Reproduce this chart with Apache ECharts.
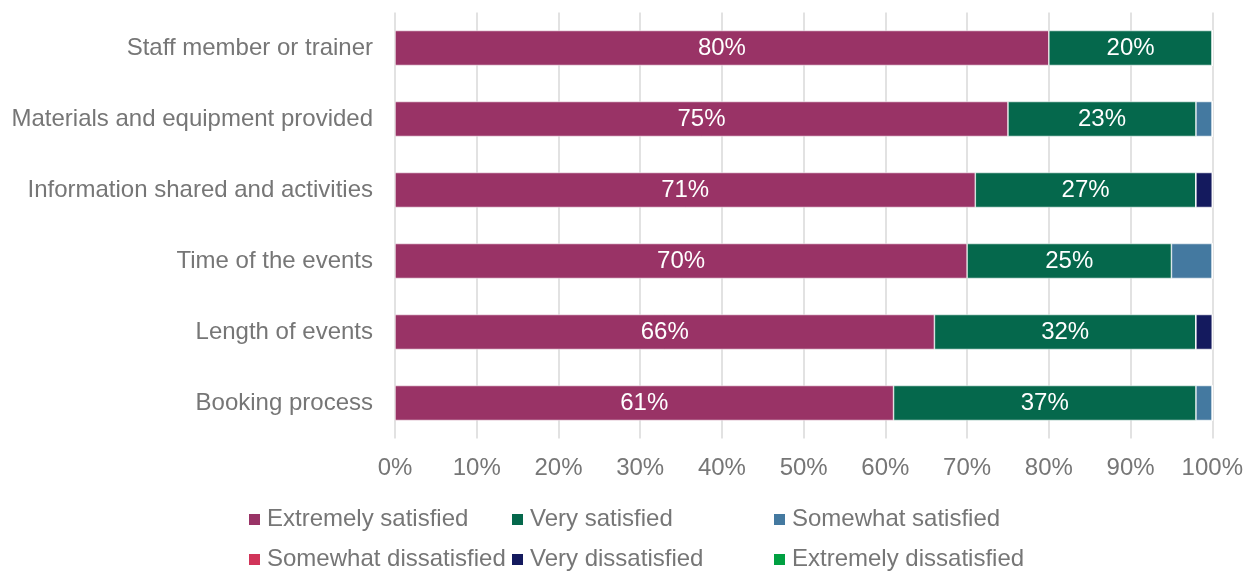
<!DOCTYPE html>
<html>
<head>
<meta charset="utf-8">
<script src="https://cdn.jsdelivr.net/npm/echarts@6/dist/echarts.min.js"></script>
<style>
  html, body { margin: 0; padding: 0; background: #ffffff; }
  #chart { width: 1246px; height: 572px; }
</style>
</head>
<body>
<div id="chart"></div>
<script>
// Satisfaction with event aspects (share of respondents, %)
const categories = [
  'Booking process',
  'Length of events',
  'Time of the events',
  'Information shared and activities',
  'Materials and equipment provided',
  'Staff member or trainer'
];
const seriesNames = [
  'Extremely satisfied',
  'Very satisfied',
  'Somewhat satisfied',
  'Somewhat dissatisfied',
  'Very dissatisfied',
  'Extremely dissatisfied'
];
const extremelySatisfied   = [61, 66, 70, 71, 75, 80];
const verySatisfied        = [37, 32, 25, 27, 23, 20];
const somewhatSatisfied    = [2, 0, 5, 0, 2, 0];
const somewhatDissatisfied = [0, 0, 0, 0, 0, 0];
const veryDissatisfied     = [0, 2, 0, 2, 0, 0];
const extremelyDissatisfied = [0, 0, 0, 0, 0, 0];
const xTicks = [0, 10, 20, 30, 40, 50, 60, 70, 80, 90, 100];

const colors = ['#993366', '#05684c', '#4479a0', '#d13459', '#141a5e', '#00a041'];
const values = [extremelySatisfied, verySatisfied, somewhatSatisfied,
                somewhatDissatisfied, veryDissatisfied, extremelyDissatisfied];
const labelled = [true, true, false, false, false, false];

const FONT = '"Liberation Sans", Arial, sans-serif';
const GRAY = '#767676';
const SIZE = 24;

const series = seriesNames.map((name, i) => ({
  name: name,
  type: 'bar',
  stack: 'total',
  barWidth: 35,
  data: values[i],
  itemStyle: { color: colors[i], borderColor: '#ffffff', borderWidth: 0.6 },
  label: {
    show: labelled[i],
    position: 'inside',
    color: '#ffffff',
    fontFamily: FONT,
    fontSize: SIZE,
    formatter: p => p.value + '%'
  }
}));

// legend positions: three columns, two rows
const legendPos = [
  [247, 507.5], [510, 507.5], [772, 507.5],
  [247, 547.5], [510, 547.5], [772, 547.5]
];
const legends = seriesNames.map((name, i) => ({
  data: [name],
  left: legendPos[i][0],
  top: legendPos[i][1],
  icon: 'rect',
  itemWidth: 13,
  itemHeight: 13,
  itemGap: 0,
  padding: 0,
  selectedMode: false,
  textStyle: { color: GRAY, fontFamily: FONT, fontSize: SIZE, lineHeight: 24, padding: [0, 0, 0, 1] }
}));

const chart = echarts.init(document.getElementById('chart'), null, { renderer: 'canvas' });
chart.setOption({
  animation: false,
  color: colors,
  grid: { left: 395, right: 32, top: 12.5, bottom: 133.5, containLabel: false },
  legend: legends,
  xAxis: {
    type: 'value',
    min: 0,
    max: 100,
    interval: 10,
    axisLine: { show: false },
    axisTick: { show: false },
    splitLine: { show: true, lineStyle: { color: '#d9d9d9', width: 1.5 } },
    axisLabel: {
      color: GRAY,
      fontFamily: FONT,
      fontSize: SIZE,
      margin: 18,
      formatter: v => (xTicks.includes(v) ? v + '%' : '')
    }
  },
  yAxis: {
    type: 'category',
    data: categories,
    axisLine: { show: false },
    axisTick: { show: false },
    axisLabel: {
      color: GRAY,
      fontFamily: FONT,
      fontSize: SIZE,
      margin: 22
    }
  },
  series: series
});
</script>
</body>
</html>
